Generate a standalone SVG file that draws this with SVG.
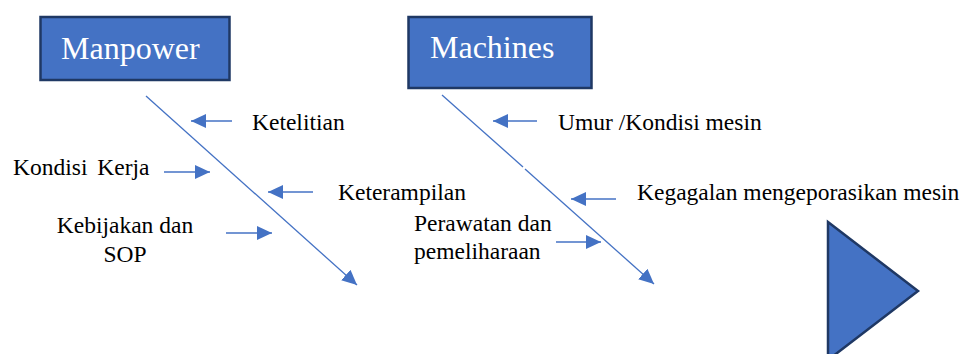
<svg xmlns="http://www.w3.org/2000/svg" width="968" height="354" viewBox="0 0 968 354">
<style>
.box{fill:#4472C4;stroke:#1F3864;stroke-width:2.5}
.title{font-family:'Liberation Serif','Times New Roman',Times,serif;font-size:32px;fill:#ffffff}
.lbl{font-family:'Liberation Serif','Times New Roman',Times,serif;font-size:23.5px;fill:#000000}
.ln{stroke:#4472C4;stroke-width:1.3;fill:none}
.arr{marker-end:url(#ah)}
</style>
<defs>
<marker id="ah" markerUnits="userSpaceOnUse" markerWidth="16" markerHeight="14" refX="15" refY="7" orient="auto">
<path d="M0,0 L15,7 L0,14 Z" fill="#4472C4"/>
</marker>
</defs>
<g id="manpower">
<rect class="box" x="40.5" y="17" width="189" height="63"/>
<text class="title" x="61" y="59">Manpower</text>
</g>
<g id="machines">
<rect class="box" x="408.5" y="17" width="183" height="71"/>
<text class="title" x="430" y="58">Machines</text>
</g>
<g id="effect">
<polygon points="828,222 918,291 828,360" fill="#4472C4" stroke="#1F3864" stroke-width="2.5"/>
</g>
<g id="labels">
<text class="lbl" x="252" y="130">Ketelitian</text>
<text class="lbl" x="13" y="175" word-spacing="4">Kondisi Kerja</text>
<text class="lbl" x="338" y="200">Keterampilan</text>
<text class="lbl" x="125" y="233" text-anchor="middle">Kebijakan dan</text>
<text class="lbl" x="125" y="262" text-anchor="middle">SOP</text>
<text class="lbl" x="558" y="130">Umur /Kondisi mesin</text>
<text class="lbl" x="637" y="200">Kegagalan mengeporasikan mesin</text>
<text class="lbl" x="414" y="231">Perawatan dan</text>
<text class="lbl" x="414" y="259">pemeliharaan</text>
</g>
<g id="connectors">
<line class="ln arr" x1="146" y1="96" x2="357" y2="285"/>
<line class="ln" x1="442" y1="95" x2="523" y2="167"/>
<line class="ln arr" x1="525" y1="169" x2="654" y2="284"/>
<line class="ln arr" x1="232" y1="121" x2="191" y2="121"/>
<line class="ln arr" x1="164" y1="172" x2="210" y2="172"/>
<line class="ln arr" x1="313" y1="192" x2="268" y2="192"/>
<line class="ln arr" x1="226" y1="233" x2="272" y2="233"/>
<line class="ln arr" x1="537" y1="121" x2="493" y2="121"/>
<line class="ln arr" x1="616" y1="199" x2="571" y2="199"/>
<line class="ln arr" x1="556" y1="242" x2="601" y2="242"/>
</g>
</svg>
